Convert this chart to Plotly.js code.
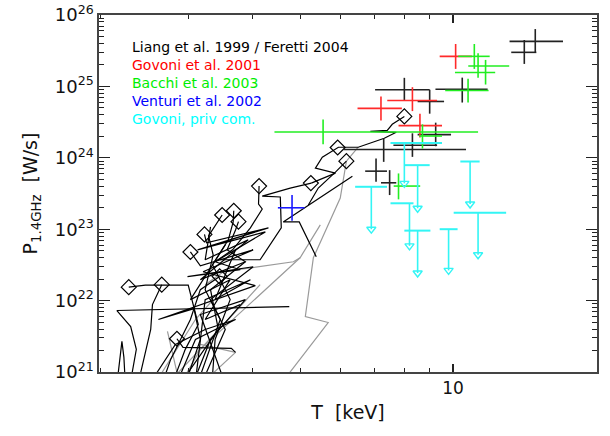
<!DOCTYPE html>
<html><head><meta charset="utf-8">
<script src="https://cdn.plot.ly/plotly-3.0.1.min.js"></script>
<style>html,body{margin:0;padding:0;background:#fff}#chart{width:610px;height:436px}</style>
</head><body><div id="chart"></div>
<script>
// ---- Data (T in keV, power as log10 P [W/Hz]) ----
const liangT      = [14.55,13.84,10.43,8.01,8.99,9.24,8.31,7.29,7.04,7.49];
const liangTlo    = [12.94,13.04,9.23,7.01,8.51,8.51,7.62,6.07,6.70,7.20];
const liangThi    = [16.51,14.62,11.71,8.99,9.60,9.91,9.30,10.61,7.40,7.72];
const liangLogP   = [25.630,25.477,24.960,24.953,24.789,24.325,24.176,24.116,23.813,23.650];
const liangLogPlo = [25.469,25.315,24.774,24.803,24.618,24.162,24.013,23.943,23.664,23.478];
const liangLogPhi = [25.803,25.650,25.123,25.120,24.953,24.492,24.343,24.273,23.990,23.827];

const govT      = [10.12,8.31,7.20,8.60];
const govTlo    = [9.41,7.41,6.47,7.80];
const govThi    = [10.90,9.30,7.92,9.51];
const govLogP   = [25.421,24.803,24.692,24.450];
const govLogPlo = [25.245,24.654,24.524,24.283];
const govLogPhi = [25.594,24.989,24.859,24.618];

const bacT      = [11.02,11.21,11.60,10.71,8.70,5.53,7.80];
const bacTlo    = [10.24,10.72,10.09,9.65,8.57,4.43,7.63];
const bacThi    = [11.82,12.92,12.12,11.76,9.51,11.21,8.61];
const bacLogP   = [25.421,25.285,25.194,24.943,24.305,24.361,23.604];
const bacLogPlo = [25.245,25.120,25.026,24.774,24.130,24.189,23.418];
const bacLogPhi = [25.594,25.463,25.371,25.106,24.469,24.538,23.781];

const venT      = [4.80];
const venTlo    = [4.50];
const venThi    = [5.08];
const venLogP   = [23.30];
const venLogPlo = [23.12];
const venLogPhi = [23.48];

const cyT       = [8.01,8.51,10.81,6.89,8.20,8.51,9.80,11.21];
const cyTlo     = [7.52,8.02,10.34,6.40,7.52,8.01,9.41,10.03];
const cyThi     = [9.51,8.99,11.29,7.40,8.35,9.02,10.21,12.74];
const cyLogP    = [24.208,23.897,23.948,23.594,23.363,22.980,23.000,23.232];
const cyLogPtip = [23.642,23.293,23.353,23.000,22.767,22.386,22.423,22.642];

const diaT    = [8.01,5.91,6.15,5.23,4.13,3.68,3.49,3.76,3.22,3.02,2.28,2.65,2.84,3.45];
const diaLogP = [24.580,24.144,23.953,23.646,23.604,23.259,23.199,23.106,22.927,22.681,22.188,22.223,21.466,22.339];

const blackTrackT = [
 [8.01,7.58,7.41,6.86,7.72,7.31,6.49,5.93,5.51,5.34,5.85,5.41,5.24],
 [6.32,5.17,4.61,4.96,5.36],
 [6.15,5.85,5.41,5.17],
 [5.24,4.76,4.19,4.55,4.57,4.15,3.46],
 [4.13,4.12,4.19,3.97,3.66,3.38],
 [3.02,3.16,4.02,3.20,4.06,2.61,3.07,3.16,2.99],
 [3.22,3.25,4.31,3.12,4.25,3.38,3.79,2.98,4.02,3.31,3.54,3.23],
 [3.49,3.40,3.28,3.35,3.23,3.46,3.16],
 [3.68,3.67,3.59,3.34,3.62,3.38,3.34],
 [3.76,3.71,3.57,3.88,3.31,3.43,2.96],
 [2.28,2.46,2.99,3.06,3.13,2.95,2.82],
 [2.65,2.61,2.54,2.52,2.42,2.40],
 [4.74,2.16,2.30,2.36,2.31],
 [2.17,2.19,2.21,2.23,2.24],
 [2.84,2.92,3.64,3.71],
 [3.45,3.16,3.02,2.76,2.69],
 [2.57,2.82,3.23,3.71,3.09,2.88],
 [3.10,3.31,3.88,3.16,3.49],
 [3.31,3.23,3.93,3.16,3.88],
 [3.10,3.23,3.97,3.38,3.71],
 [3.54,3.02,3.62,3.23,3.79]
];
const blackTrackLogP = [
 [24.58,24.469,24.385,24.371,24.357,24.273,24.148,24.148,24.008,23.855,23.785,23.688,23.646],
 [23.743,23.339,23.102,23.102,22.614],
 [23.953,23.799,23.576,23.339],
 [23.646,23.576,23.464,23.451,23.018,22.572,22.572],
 [23.604,23.353,23.283,23.018,22.711,22.544],
 [22.683,22.488,22.711,22.404,22.209,21.735,21.888,21.456,20.95],
 [22.927,22.809,23.018,22.711,22.962,22.544,22.432,22.335,22.474,22.014,21.596,20.95],
 [23.199,23.074,22.907,22.642,22.153,21.735,20.95],
 [23.259,23.102,22.851,22.502,22.014,21.456,20.95],
 [23.106,22.990,22.711,22.544,22.153,21.596,20.95],
 [22.188,22.216,22.216,21.944,21.665,21.317,20.95],
 [22.223,22.126,21.944,21.596,21.079,20.95],
 [21.916,21.861,21.637,21.317,20.95],
 [20.95,21.177,21.428,21.205,20.95],
 [21.466,21.344,21.331,21.275],
 [22.339,22.153,21.735,21.177,20.95],
 [20.95,21.386,21.596,21.735,21.456,20.95],
 [20.95,21.456,22.014,21.805,20.95],
 [23.032,22.572,22.851,22.293,22.544],
 [20.95,22.014,22.293,22.014,22.711],
 [22.781,22.014,22.293,21.735,21.944]
];
const greyTrackT = [
 [6.49,6.15,5.98,5.29,5.10,5.66,4.70],
 [5.46,4.98,4.83,3.51,3.23],
 [4.98,3.16,2.95],
 [3.31,3.71,3.16],
 [2.82,3.59,4.15],
 [2.72,2.85],
 [2.63,3.09,3.35]
];
const greyTrackLogP = [
 [24.148,23.953,23.437,22.600,21.777,21.693,20.95],
 [23.060,22.600,22.544,22.404,22.223],
 [22.600,21.317,20.95],
 [20.95,21.275,21.386],
 [20.95,21.735,22.223],
 [21.568,20.95],
 [20.95,21.735,22.014]
];

const legendLabels = ['Liang et al. 1999 / Feretti 2004','Govoni et al. 2001','Bacchi et al. 2003','Venturi et al. 2002','Govoni, priv com.'];
const legendColors = ['#000000','#ff0000','#00ee00','#0000ff','#00ffff'];

// ---- helpers ----
const FONT = 'DejaVu Sans, Arial, sans-serif';
const pw = a => a.map(v => v == null ? null : Math.pow(10, v));
function joinTracks(Ts, Ls){
  const x = [], y = [];
  Ts.forEach((t, i) => { t.forEach((v, j) => { x.push(v); y.push(Math.pow(10, Ls[i][j])); }); x.push(null); y.push(null); });
  return {x, y};
}
function crossTrace(T, Tlo, Thi, lp, lplo, lphi, color){
  const P = pw(lp), Plo = pw(lplo), Phi = pw(lphi);
  return {type:'scatter', mode:'markers', x:T, y:P, hoverinfo:'skip', showlegend:false,
    marker:{size:1, color:'rgba(0,0,0,0)'},
    error_x:{type:'data', symmetric:false, array:Thi.map((h,i)=>h-T[i]), arrayminus:T.map((t,i)=>t-Tlo[i]), color:color, thickness:1.6, width:0},
    error_y:{type:'data', symmetric:false, array:Phi.map((h,i)=>h-P[i]), arrayminus:P.map((p,i)=>p-Plo[i]), color:color, thickness:1.6, width:0}};
}

const grey = joinTracks(greyTrackT, greyTrackLogP);
const black = joinTracks(blackTrackT, blackTrackLogP);
const cyP = pw(cyLogP), cyTip = pw(cyLogPtip);

const traces = [
  {type:'scatter', mode:'lines', x:grey.x, y:grey.y, connectgaps:false, line:{color:'#9a9a9a', width:1.2}, hoverinfo:'skip', showlegend:false},
  {type:'scatter', mode:'lines', x:black.x, y:black.y, connectgaps:false, line:{color:'#000', width:1.2}, hoverinfo:'skip', showlegend:false},
  {type:'scatter', mode:'markers', x:diaT, y:pw(diaLogP), marker:{symbol:'diamond-open', size:11.5, color:'#000', line:{width:1.2, color:'#000'}}, hoverinfo:'skip', showlegend:false},
  crossTrace(liangT, liangTlo, liangThi, liangLogP, liangLogPlo, liangLogPhi, '#222'),
  crossTrace(govT, govTlo, govThi, govLogP, govLogPlo, govLogPhi, '#ff2a2a'),
  crossTrace(bacT, bacTlo, bacThi, bacLogP, bacLogPlo, bacLogPhi, '#22ee22'),
  crossTrace(venT, venTlo, venThi, venLogP, venLogPlo, venLogPhi, '#1a1aff'),
  {type:'scatter', mode:'markers', x:cyT, y:cyP, hoverinfo:'skip', showlegend:false,
    marker:{size:1, color:'rgba(0,0,0,0)'},
    error_x:{type:'data', symmetric:false, array:cyThi.map((h,i)=>h-cyT[i]), arrayminus:cyT.map((t,i)=>t-cyTlo[i]), color:'#33f5f5', thickness:2, width:0},
    error_y:{type:'data', symmetric:false, array:cyP.map(()=>0), arrayminus:cyP.map((p,i)=>p-cyTip[i]), color:'#33f5f5', thickness:1.6, width:0}},
  {type:'scatter', mode:'markers', x:cyT, y:cyTip, marker:{symbol:'triangle-down-open', size:8, color:'#33f5f5', line:{width:1.4, color:'#33f5f5'}}, hoverinfo:'skip', showlegend:false}
];

const yTickVals = [1e21,1e22,1e23,1e24,1e25,1e26];
const yTickText = ['10<sup>21</sup>','10<sup>22</sup>','10<sup>23</sup>','10<sup>24</sup>','10<sup>25</sup>','10<sup>26</sup>'];
const yMinor = [];
for (let e = 21; e < 26; e++) for (let d = 2; d <= 9; d++) yMinor.push(d * Math.pow(10, e));

const annotations = legendLabels.map((t, i) => ({
  text: t, xref:'paper', yref:'paper', x:0.063, y:0.910 - i*0.0505, xanchor:'left', yanchor:'middle',
  showarrow:false, font:{family:FONT, size:14, color:legendColors[i]}
}));

const layout = {
  width:610, height:436, margin:{l:99, r:13, t:15, b:64},
  paper_bgcolor:'#fff', plot_bgcolor:'#fff', showlegend:false,
  font:{family:FONT, color:'#111'},
  xaxis:{type:'log', range:[0.299, 1.2851], tickmode:'array', tickvals:[10], ticktext:['10'],
    ticks:'inside', ticklen:8, tickwidth:1.2, tickcolor:'#222',
    minor:{tickmode:'array', tickvals:[2,3,4,5,6,7,8,9,20], ticks:'inside', ticklen:4, tickwidth:1, tickcolor:'#222', showgrid:false},
    showline:true, linecolor:'#444', linewidth:1.6, mirror:'ticks', showgrid:false, zeroline:false,
    tickfont:{family:FONT, size:17, color:'#111'},
    title:{text:'T\u00a0\u00a0[keV]', font:{family:FONT, size:19, color:'#111'}, standoff:8}},
  yaxis:{type:'log', range:[21, 26], tickmode:'array', tickvals:yTickVals, ticktext:yTickText,
    ticks:'inside', ticklen:11, tickwidth:1.2, tickcolor:'#222',
    minor:{tickmode:'array', tickvals:yMinor, ticks:'inside', ticklen:5, tickwidth:1, tickcolor:'#222', showgrid:false},
    showline:true, linecolor:'#444', linewidth:1.6, mirror:'ticks', showgrid:false, zeroline:false,
    tickfont:{family:FONT, size:18, color:'#111'},
    title:{text:'P<sub>1.4GHz</sub>\u00a0\u00a0[W/s]', font:{family:FONT, size:19, color:'#111'}, standoff:12}},
  annotations: annotations
};

Plotly.newPlot('chart', traces, layout, {staticPlot:true, displayModeBar:false});
</script></body></html>
